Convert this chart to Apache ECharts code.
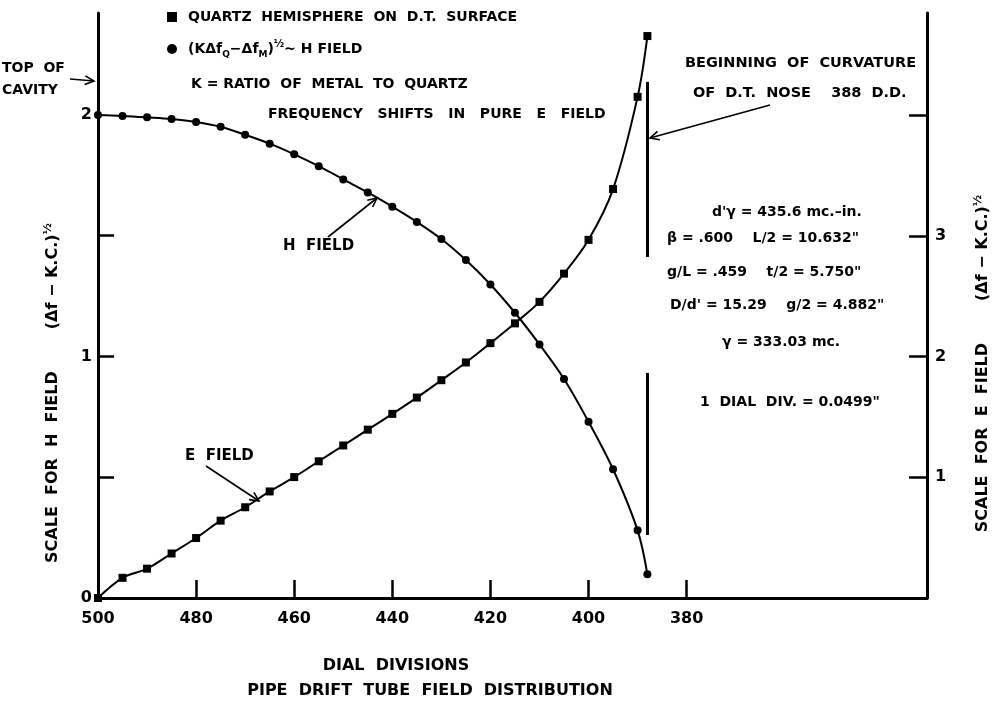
<!DOCTYPE html>
<html>
<head>
<meta charset="utf-8">
<script src="https://cdn.jsdelivr.net/npm/echarts@6/dist/echarts.min.js"></script>
<style>
html,body{margin:0;padding:0;background:#fff;}
#chart{width:999px;height:704px;}
</style>
</head>
<body>
<div id="chart"></div>
<script>
// ---- data ----
const dialDivisions = [500,495,490,485,480,475,470,465,460,455,450,445,440,435,430,425,420,415,410,405,400,395,390,388];
const hField = [2.0,1.996,1.99,1.983,1.971,1.951,1.918,1.881,1.837,1.788,1.733,1.679,1.62,1.557,1.486,1.399,1.298,1.181,1.05,0.907,0.73,0.533,0.28,0.098];
const eField = [0,0.167,0.243,0.369,0.497,0.641,0.752,0.883,1.002,1.133,1.264,1.395,1.526,1.661,1.805,1.952,2.112,2.276,2.454,2.688,2.968,3.389,4.153,4.657];
const xTickValues = [380,400,420,440,460,480];
const xLabelValues = [380,400,420,440,460,480,500];
const hTickValues = [0.5,1,1.5];
const hLabelValues = [0,1,2];
const eTickValues = [1,2,3,4];
const eLabelValues = [1,2,3];
const noseDial = 388;
const noseSegments = [[2.137,1.412],[0.932,0.261]];

const FONT = '"DejaVu Sans", "Liberation Sans", sans-serif';
const eName = 'QUARTZ HEMISPHERE ON D.T. SURFACE';
const hName = '(KΔfQ−ΔfM)½∼H FIELD';

function arrow(x1,y1,x2,y2){
  const a = Math.atan2(y2-y1,x2-x1), L = 10, s = 0.45;
  const p1 = [x2 - L*Math.cos(a-s), y2 - L*Math.sin(a-s)];
  const p2 = [x2 - L*Math.cos(a+s), y2 - L*Math.sin(a+s)];
  return [
    {type:'line', shape:{x1:x1,y1:y1,x2:x2,y2:y2}, style:{stroke:'#000', lineWidth:1.6}},
    {type:'polyline', shape:{points:[p1,[x2,y2],p2]}, style:{stroke:'#000', lineWidth:1.6, fill:null}}
  ];
}
function txt(text,x,y,size,align){
  return {type:'text', x:x, y:y, style:{text:text, fill:'#000', font:'bold '+size+'px '+FONT,
          textAlign:align||'left', textVerticalAlign:'middle'}};
}

const chart = echarts.init(document.getElementById('chart'));
const hData = dialDivisions.map((d,i)=>[d,hField[i]]);
const eData = dialDivisions.map((d,i)=>[d,eField[i]]);

const baseRich = {
  t:{fontSize:14,fontWeight:'bold',fontFamily:FONT,lineHeight:20,color:'#000'},
  sub:{fontSize:9,fontWeight:'bold',fontFamily:FONT,lineHeight:11,verticalAlign:'bottom',color:'#000'},
  sup:{fontSize:10,fontWeight:'bold',fontFamily:FONT,lineHeight:10,verticalAlign:'top',color:'#000'}
};
const nameRich = {
  a:{fontSize:16,fontWeight:'bold',fontFamily:FONT,lineHeight:20,color:'#000'},
  g:{width:42},
  s:{fontSize:11,fontWeight:'bold',fontFamily:FONT,lineHeight:10,verticalAlign:'top',color:'#000'}
};
const tickLabel = {color:'#000', fontSize:16, fontWeight:'bold', fontFamily:FONT};

const option = {
  backgroundColor:'#fff',
  animation:false,
  textStyle:{fontFamily:FONT},
  title:[
    {text:'DIAL  DIVISIONS', left:391, top:653, textAlign:'center',
     textStyle:{fontSize:16,fontWeight:'bold',fontFamily:FONT,color:'#000'}},
    {text:'PIPE  DRIFT  TUBE  FIELD  DISTRIBUTION', left:425, top:678, textAlign:'center',
     textStyle:{fontSize:16,fontWeight:'bold',fontFamily:FONT,color:'#000'}}
  ],
  legend:{
    orient:'vertical', left:162, top:5, itemGap:15, itemWidth:10, itemHeight:10,
    data:[{name:eName, icon:'rect'},{name:hName, icon:'circle'}],
    formatter:function(n){
      if(n===hName) return '{t|(KΔf}{sub|Q}{t|−Δf}{sub|M}{t|)}{sup|½}{t|∼ H FIELD}';
      return '{t|'+n.replace(/ /g,'  ')+'}';
    },
    textStyle:{padding:[0,0,0,6], rich:baseRich}
  },
  grid:{left:98, right:64, top:13, bottom:106},
  xAxis:{
    type:'value', inverse:true, min:331, max:500,
    axisLine:{show:true, onZero:false, lineStyle:{color:'#000', width:3}},
    axisTick:{show:true, inside:true, length:18, customValues:xTickValues, lineStyle:{color:'#000',width:2.5}},
    axisLabel:Object.assign({show:true, customValues:xLabelValues, margin:13}, tickLabel),
    splitLine:{show:false}
  },
  yAxis:[
    {
      type:'value', min:0, max:2.422, position:'left',
      axisLine:{show:true, onZero:false, lineStyle:{color:'#000', width:3}},
      axisTick:{show:true, inside:true, length:16, customValues:hTickValues, lineStyle:{color:'#000',width:2.5}},
      axisLabel:Object.assign({show:true, customValues:hLabelValues, margin:6}, tickLabel),
      splitLine:{show:false},
      name:'{a|SCALE  FOR  H  FIELD}{g|}{a|(Δf − K.C.)}{s|½}',
      nameLocation:'middle', nameRotate:90, nameGap:35,
      nameTextStyle:{padding:[0,175,0,0], rich:nameRich}
    },
    {
      type:'value', min:0, max:4.848, position:'right',
      axisLine:{show:true, onZero:false, lineStyle:{color:'#000', width:3}},
      axisTick:{show:true, inside:true, length:18, customValues:eTickValues, lineStyle:{color:'#000',width:2.5}},
      axisLabel:Object.assign({show:true, customValues:eLabelValues, margin:8}, tickLabel),
      splitLine:{show:false},
      name:'{a|SCALE  FOR  E  FIELD}{g|}{a|(Δf − K.C.)}{s|½}',
      nameLocation:'middle', nameRotate:90, nameGap:46,
      nameTextStyle:{padding:[0,116,0,0], rich:nameRich}
    }
  ],
  series:[
    {
      name:eName, type:'line', yAxisIndex:1, data:eData, smooth:0.35,
      symbol:'rect', symbolSize:8, showAllSymbol:true,
      lineStyle:{color:'#000', width:2}, itemStyle:{color:'#000'}, z:3
    },
    {
      name:hName, type:'line', yAxisIndex:0, data:hData, smooth:0.35,
      symbol:'circle', symbolSize:8, showAllSymbol:true,
      lineStyle:{color:'#000', width:2}, itemStyle:{color:'#000'}, z:3,
      markLine:{
        silent:true, symbol:['none','none'], label:{show:false},
        lineStyle:{color:'#000', width:3, type:'solid'},
        data: noseSegments.map(s=>[{coord:[noseDial,s[0]]},{coord:[noseDial,s[1]]}])
      }
    }
  ],
  graphic:[].concat(
    [
      txt('TOP  OF',2,68,14),
      txt('CAVITY',2,90,14),
      txt('K = RATIO  OF  METAL  TO  QUARTZ',191,84,14),
      txt('FREQUENCY   SHIFTS   IN   PURE   E   FIELD',268,114,14),
      txt('H  FIELD',283,246,15),
      txt('E  FIELD',185,456,15),
      txt('BEGINNING  OF  CURVATURE',685,63,14.5),
      txt('OF  D.T.  NOSE    388  D.D.',693,93,14.5),
      txt("d'γ = 435.6 mc.–in.",712,212,14),
      txt('β = .600    L/2 = 10.632"',667,238,14),
      txt('g/L = .459    t/2 = 5.750"',667,272,14),
      txt("D/d' = 15.29    g/2 = 4.882\"",670,305,14),
      txt('γ = 333.03 mc.',722,342,14),
      txt('1  DIAL  DIV. = 0.0499"',700,402,14)
    ],
    arrow(70,79,94,81),
    arrow(328,237,377,198),
    arrow(206,466,259,501),
    arrow(770,105,650,138)
  )
};
chart.setOption(option);
</script>
</body>
</html>
